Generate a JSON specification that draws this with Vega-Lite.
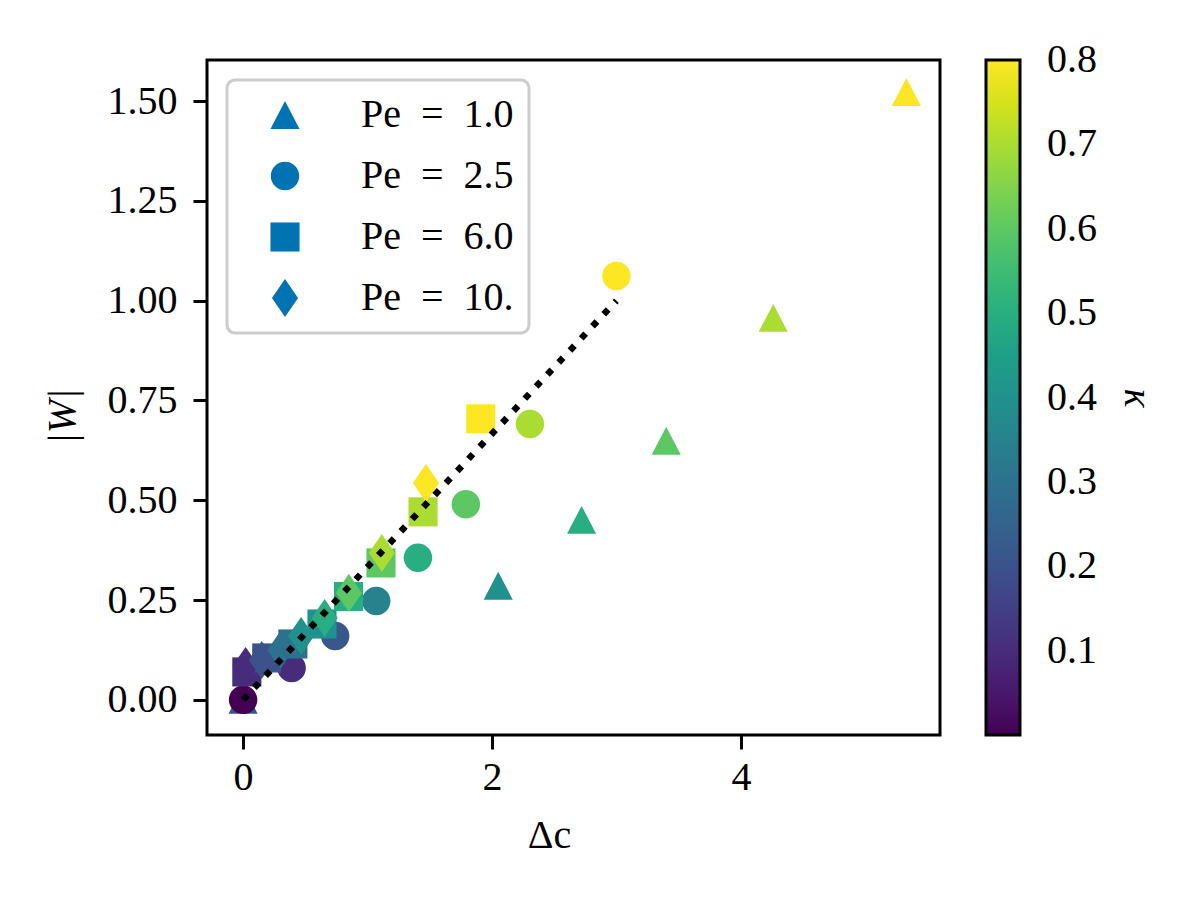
{
  "$schema": "https://vega.github.io/schema/vega-lite/v6.json",
  "width": 733,
  "height": 675,
  "autosize": {"type": "none"},
  "padding": {"left": 207, "top": 60, "right": 260, "bottom": 165},
  "background": "white",
  "config": {
    "font": "Liberation Serif",
    "view": {"stroke": "black", "strokeWidth": 3},
    "axis": {
      "labelFont": "Liberation Serif", "labelFontSize": 40, "labelColor": "black",
      "tickColor": "black", "tickSize": 14, "tickWidth": 3, "domain": false, "grid": false,
      "titleFont": "Liberation Serif", "titleFontSize": 40, "titleColor": "black", "titleFontWeight": "normal"
    },
    "legend": {
      "labelFont": "Liberation Serif", "labelFontSize": 40, "labelColor": "black",
      "titleFont": "Liberation Serif", "titleFontSize": 40, "titleColor": "black", "titleFontWeight": "normal",
      "strokeWidth": 3
    }
  },
  "layer": [
    {
      "data": {
        "values": [
          {"Pe": "1.0", "kappa": 0.2, "dc": 0.0, "w": 0.0},
          {"Pe": "1.0", "kappa": 0.4, "dc": 2.05, "w": 0.286},
          {"Pe": "1.0", "kappa": 0.5, "dc": 2.72, "w": 0.451},
          {"Pe": "1.0", "kappa": 0.6, "dc": 3.40, "w": 0.649},
          {"Pe": "1.0", "kappa": 0.7, "dc": 4.26, "w": 0.957},
          {"Pe": "1.0", "kappa": 0.8, "dc": 5.33, "w": 1.523},
          {"Pe": "2.5", "kappa": 0.0, "dc": 0.0, "w": 0.0},
          {"Pe": "2.5", "kappa": 0.1, "dc": 0.39, "w": 0.08},
          {"Pe": "2.5", "kappa": 0.22, "dc": 0.74, "w": 0.16},
          {"Pe": "2.5", "kappa": 0.35, "dc": 1.07, "w": 0.248},
          {"Pe": "2.5", "kappa": 0.5, "dc": 1.405, "w": 0.356},
          {"Pe": "2.5", "kappa": 0.6, "dc": 1.79, "w": 0.49},
          {"Pe": "2.5", "kappa": 0.7, "dc": 2.305, "w": 0.691},
          {"Pe": "2.5", "kappa": 0.8, "dc": 3.0, "w": 1.062},
          {"Pe": "6.0", "kappa": 0.1, "dc": 0.03, "w": 0.07},
          {"Pe": "6.0", "kappa": 0.2, "dc": 0.19, "w": 0.105},
          {"Pe": "6.0", "kappa": 0.3, "dc": 0.40, "w": 0.14},
          {"Pe": "6.0", "kappa": 0.4, "dc": 0.634, "w": 0.19},
          {"Pe": "6.0", "kappa": 0.5, "dc": 0.847, "w": 0.259},
          {"Pe": "6.0", "kappa": 0.6, "dc": 1.108, "w": 0.343},
          {"Pe": "6.0", "kappa": 0.7, "dc": 1.446, "w": 0.471},
          {"Pe": "6.0", "kappa": 0.8, "dc": 1.91, "w": 0.704},
          {"Pe": "10.", "kappa": 0.1, "dc": 0.02, "w": 0.085},
          {"Pe": "10.", "kappa": 0.2, "dc": 0.15, "w": 0.1},
          {"Pe": "10.", "kappa": 0.3, "dc": 0.30, "w": 0.125},
          {"Pe": "10.", "kappa": 0.4, "dc": 0.466, "w": 0.16},
          {"Pe": "10.", "kappa": 0.5, "dc": 0.655, "w": 0.205},
          {"Pe": "10.", "kappa": 0.6, "dc": 0.85, "w": 0.268},
          {"Pe": "10.", "kappa": 0.7, "dc": 1.115, "w": 0.368},
          {"Pe": "10.", "kappa": 0.8, "dc": 1.47, "w": 0.543}
        ]
      },
      "mark": {"type": "point", "filled": true, "opacity": 1, "size": 900, "strokeWidth": 0},
      "encoding": {
        "x": {
          "field": "dc", "type": "quantitative",
          "scale": {"domain": [-0.29, 5.6], "nice": false, "zero": false},
          "axis": {"values": [0, 2, 4], "format": "d", "title": "Δc", "labelPadding": 8, "titleX": 342, "titleY": 112, "titleBaseline": "alphabetic"}
        },
        "y": {
          "field": "w", "type": "quantitative",
          "scale": {"domain": [-0.088, 1.603], "nice": false, "zero": false},
          "axis": {"values": [0, 0.25, 0.5, 0.75, 1, 1.25, 1.5], "format": ".2f", "title": "|W|", "titleFontStyle": "italic", "labelPadding": 16, "titleX": -145, "titleY": 356, "titleBaseline": "middle", "titleAngle": 270}
        },
        "color": {
          "field": "kappa", "type": "quantitative",
          "scale": {"scheme": "viridis", "domain": [0, 0.8001]},
          "legend": {
            "title": "κ", "orient": "right", "offset": 46, "padding": 0,
            "gradientLength": 675, "gradientThickness": 34,
            "gradientStrokeColor": "black", "gradientStrokeWidth": 3,
            "values": [0.1, 0.2, 0.3, 0.4, 0.5, 0.6, 0.7, 0.8], "format": ".1f",
            "labelOffset": 27, "titleOrient": "right", "titleFontStyle": "italic",
            "titlePadding": 20, "titleAnchor": "middle"
          }
        },
        "shape": {
          "field": "Pe", "type": "nominal",
          "scale": {
            "domain": ["1.0", "2.5", "6.0", "10."],
            "range": [
              "M0,-0.93L0.97,0.93L-0.97,0.93Z",
              "M-0.95,0A0.95,0.95,0,1,1,0.95,0A0.95,0.95,0,1,1,-0.95,0Z",
              "M-0.97,-0.97L0.97,-0.97L0.97,0.97L-0.97,0.97Z",
              "M0,-1.27L0.87,0L0,1.27L-0.87,0Z"
            ]
          },
          "legend": {
            "title": null, "orient": "top-left", "offset": 20, "padding": 15,
            "strokeColor": "#cccccc", "cornerRadius": 8, "fillColor": "white",
            "symbolSize": 900, "symbolOffset": 23, "labelOffset": 56, "rowPadding": 21,
            "symbolFillColor": "#0173b2", "symbolStrokeColor": "#0173b2", "symbolStrokeWidth": 0,
            "labelExpr": "'Pe\u2002=\u2002' + datum.label"
          }
        }
      }
    },
    {
      "data": {"values": [{"dc": 0, "w": 0}, {"dc": 3, "w": 1}]},
      "mark": {"type": "line", "color": "black", "strokeWidth": 6.5, "strokeDash": [6.5, 10], "strokeCap": "butt"},
      "encoding": {
        "x": {"field": "dc", "type": "quantitative"},
        "y": {"field": "w", "type": "quantitative"}
      }
    }
  ]
}
